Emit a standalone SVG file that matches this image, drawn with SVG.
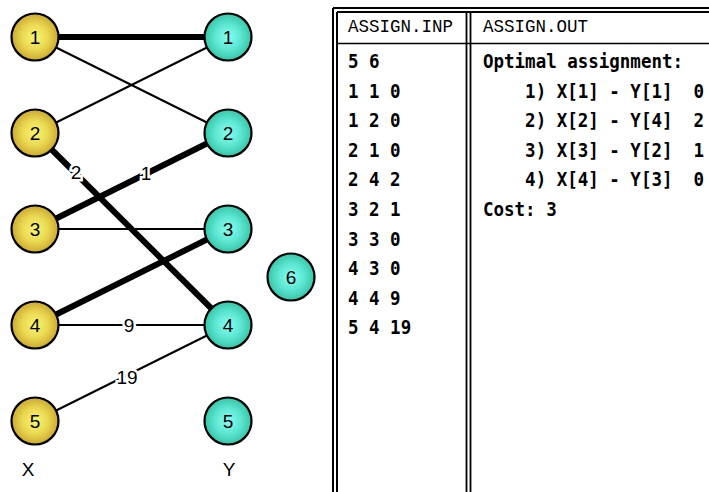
<svg xmlns="http://www.w3.org/2000/svg" width="709" height="492" viewBox="0 0 709 492">
<style>
.nx{fill:url(#gy);stroke:#000;stroke-width:2.2}
.ny{fill:url(#gc);stroke:#000;stroke-width:2.2}
.nt{font-family:"Liberation Sans",Arial,sans-serif;font-size:19px;text-anchor:middle;fill:#000}
.thin{stroke:#000;stroke-width:2;fill:none}
.thick{stroke:#000;stroke-width:6;fill:none}
.el{font-family:"Liberation Sans",Arial,sans-serif;font-size:19px;text-anchor:middle;fill:#000;stroke:#fff;stroke-width:5;paint-order:stroke}
.hd{font-family:"Liberation Mono","Courier New",monospace;font-size:19px;fill:#000}
.tx{font-family:"DejaVu Sans Mono","Liberation Mono",monospace;font-size:19px;font-weight:bold;fill:#000;white-space:pre}
.tl{stroke:#000;fill:none}
</style>
<defs>
<radialGradient id="gy" cx="0.5" cy="0.5" r="0.55">
<stop offset="0" stop-color="#faf772"/>
<stop offset="0.5" stop-color="#ead851"/>
<stop offset="1" stop-color="#c49e27"/>
</radialGradient>
<radialGradient id="gc" cx="0.5" cy="0.5" r="0.55">
<stop offset="0" stop-color="#86fff4"/>
<stop offset="0.5" stop-color="#5de6d2"/>
<stop offset="1" stop-color="#2dbf9f"/>
</radialGradient>
</defs>
<rect width="709" height="492" fill="#fff"/>
<g id="connectors">
<line class="thick" x1="35" y1="37" x2="228" y2="37"/>
<line class="thin" x1="35" y1="37" x2="228" y2="133"/>
<line class="thin" x1="35" y1="133" x2="228" y2="37"/>
<line class="thick" x1="35" y1="133" x2="228" y2="325"/>
<line class="thick" x1="35" y1="229" x2="228" y2="133"/>
<line class="thin" x1="35" y1="229" x2="228" y2="229"/>
<line class="thick" x1="35" y1="325" x2="228" y2="229"/>
<line class="thin" x1="35" y1="325" x2="228" y2="325"/>
<line class="thin" x1="35" y1="421" x2="228" y2="325"/>
<text class="el" x="76" y="179">2</text>
<text class="el" x="146" y="180">1</text>
<text class="el" x="129" y="332">9</text>
<text class="el" x="127" y="384">19</text>
</g>
<g id="x1"><circle class="nx" cx="35" cy="37" r="23.5"/><text class="nt" x="35" y="44">1</text></g>
<g id="x2"><circle class="nx" cx="35" cy="133" r="23.5"/><text class="nt" x="35" y="140">2</text></g>
<g id="x3"><circle class="nx" cx="35" cy="229" r="23.5"/><text class="nt" x="35" y="236">3</text></g>
<g id="x4"><circle class="nx" cx="35" cy="325" r="23.5"/><text class="nt" x="35" y="332">4</text></g>
<g id="x5"><circle class="nx" cx="35" cy="421" r="23.5"/><text class="nt" x="35" y="428">5</text></g>
<g id="y1"><circle class="ny" cx="228" cy="37" r="23.5"/><text class="nt" x="228" y="44">1</text></g>
<g id="y2"><circle class="ny" cx="228" cy="133" r="23.5"/><text class="nt" x="228" y="140">2</text></g>
<g id="y3"><circle class="ny" cx="228" cy="229" r="23.5"/><text class="nt" x="228" y="236">3</text></g>
<g id="y4"><circle class="ny" cx="228" cy="325" r="23.5"/><text class="nt" x="228" y="332">4</text></g>
<g id="y5"><circle class="ny" cx="228" cy="421" r="23.5"/><text class="nt" x="228" y="428">5</text></g>
<g id="y6"><circle class="ny" cx="291" cy="277" r="23.5"/><text class="nt" x="291" y="284">6</text></g>
<g id="labels">
<text class="nt" x="28" y="476">X</text>
<text class="nt" x="229" y="476">Y</text>
</g>
<g id="table">
<line class="tl" stroke-width="2" x1="333" y1="8" x2="709" y2="8"/>
<line class="tl" stroke-width="2" x1="337" y1="12" x2="709" y2="12"/>
<line class="tl" stroke-width="2" x1="333" y1="8" x2="333" y2="492"/>
<line class="tl" stroke-width="2" x1="337" y1="12" x2="337" y2="492"/>
<line class="tl" stroke-width="1.6" x1="337" y1="43.5" x2="709" y2="43.5"/>
<line class="tl" stroke-width="1.8" x1="466.5" y1="12" x2="466.5" y2="492"/>
<line class="tl" stroke-width="1.8" x1="470.5" y1="12" x2="470.5" y2="492"/>
<g transform="translate(348 0) scale(0.921 1)">
<text class="hd" x="0" y="32">ASSIGN.INP</text>
<text class="tx" x="0" y="68">5 6</text>
<text class="tx" x="0" y="97.6">1 1 0</text>
<text class="tx" x="0" y="127.2">1 2 0</text>
<text class="tx" x="0" y="156.8">2 1 0</text>
<text class="tx" x="0" y="186.4">2 4 2</text>
<text class="tx" x="0" y="216">3 2 1</text>
<text class="tx" x="0" y="245.6">3 3 0</text>
<text class="tx" x="0" y="275.2">4 3 0</text>
<text class="tx" x="0" y="304.8">4 4 9</text>
<text class="tx" x="0" y="334.4">5 4 19</text>
</g>
<g transform="translate(483 0) scale(0.921 1)">
<text class="hd" x="0" y="32">ASSIGN.OUT</text>
<text class="tx" x="0" y="68">Optimal assignment:</text>
<text class="tx" x="0" y="97.6">    1) X[1] - Y[1]  0</text>
<text class="tx" x="0" y="127.2">    2) X[2] - Y[4]  2</text>
<text class="tx" x="0" y="156.8">    3) X[3] - Y[2]  1</text>
<text class="tx" x="0" y="186.4">    4) X[4] - Y[3]  0</text>
<text class="tx" x="0" y="216">Cost: 3</text>
</g>
</g>
</svg>
